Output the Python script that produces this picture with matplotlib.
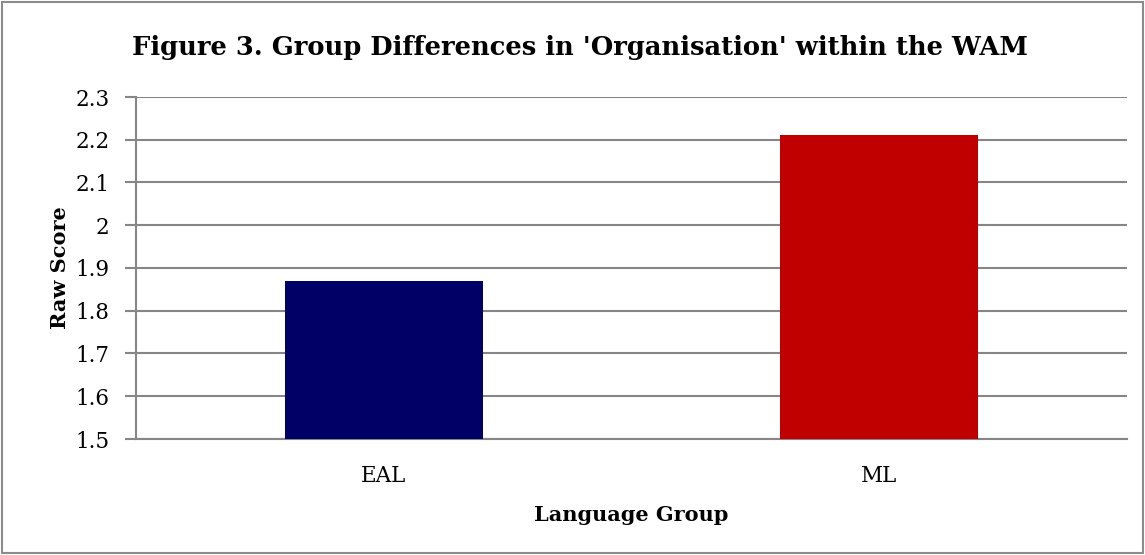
import matplotlib.pyplot as plt
from matplotlib.patches import Rectangle

groups = ["EAL", "ML"]
scores = [1.87, 2.21]
bar_colors = ["#000066", "#C00000"]
y_ticks = [1.5, 1.6, 1.7, 1.8, 1.9, 2.0, 2.1, 2.2, 2.3]
y_tick_labels = ["1.5", "1.6", "1.7", "1.8", "1.9", "2", "2.1", "2.2", "2.3"]

plt.rcParams["font.family"] = ["DejaVu Serif"]

W, H = 1145, 555
fig = plt.figure(figsize=(W / 100, H / 100), dpi=100)
fig.patches.append(Rectangle((2 / W, 2 / H), 1 - 4 / W, 1 - 4 / H, transform=fig.transFigure,
                             fill=False, edgecolor="#8c8c8c", linewidth=1.5))

# plot area in pixels: left 136, right 1127, top 97, bottom 439
ax = fig.add_axes([136 / W, 1 - 439 / H, (1127 - 136) / W, (439 - 97) / H])
x = range(len(groups))
ax.bar(x, scores, width=0.40, color=bar_colors, zorder=3)
ax.set_xlim(-0.5, 1.5)
ax.set_ylim(1.5, 2.3)
ax.set_yticks(y_ticks)
ax.set_yticklabels(y_tick_labels, fontsize=15.5)
ax.set_xticks(list(x))
ax.set_xticklabels(groups, fontsize=15.5)
ax.tick_params(axis="x", length=0, pad=19)
ax.tick_params(axis="y", length=8, width=1.5, color="#868686", pad=11)
ax.grid(axis="y", color="#868686", linewidth=1.5, zorder=0)
for side in ["top", "right"]:
    ax.spines[side].set_visible(False)
for side in ["left", "bottom"]:
    ax.spines[side].set_color("#868686")
    ax.spines[side].set_linewidth(1.5)

fig.text(580 / W, 1 - 48 / H, "Figure 3. Group Differences in 'Organisation' within the WAM",
         ha="center", va="center", fontsize=18.5, fontweight="bold")
ax.set_ylabel("Raw Score", fontsize=15, fontweight="bold", labelpad=4)
ax.set_xlabel("Language Group", fontsize=15, fontweight="bold", labelpad=13)

fig.savefig("out.png", dpi=100)
